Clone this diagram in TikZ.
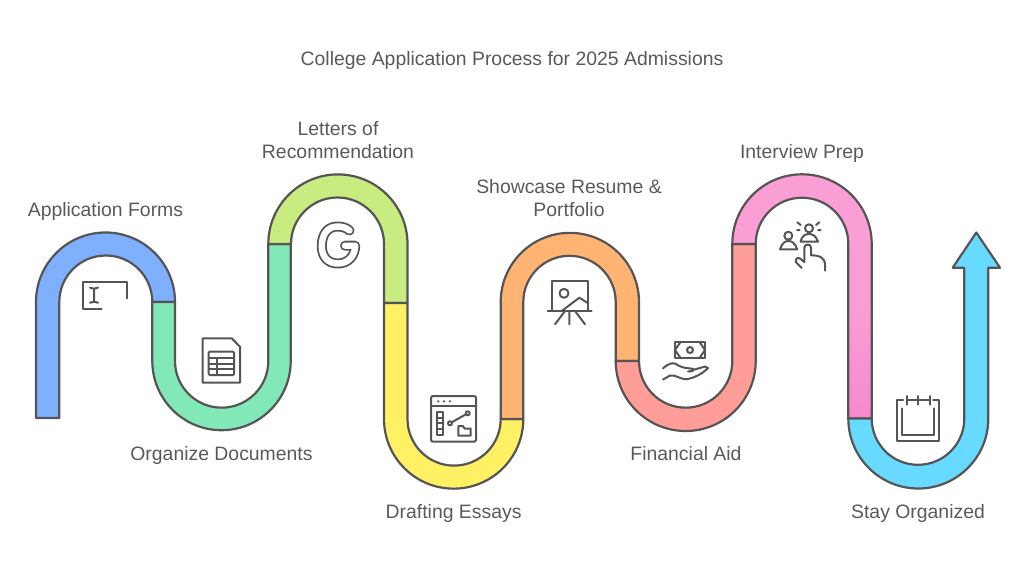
\documentclass[tikz,border=0pt]{standalone}
\usepackage{xcolor}
\usepackage{fontspec}
\setmainfont{Liberation Sans}
\usepackage{tikz}
\usetikzlibrary{arrows.meta,positioning,calc}
\definecolor{ink}{HTML}{555555}
\definecolor{txt}{HTML}{595959}
\definecolor{cblue}{HTML}{7EB0FF}
\definecolor{cgreen}{HTML}{82E8B8}
\definecolor{clime}{HTML}{C9EC80}
\definecolor{cyellow}{HTML}{FFF064}
\definecolor{corange}{HTML}{FFB474}
\definecolor{cred}{HTML}{FF9D98}
\definecolor{cpink}{HTML}{F99FD6}
\definecolor{cpinkb}{HTML}{F68ACD}
\definecolor{ccyan}{HTML}{68DAFF}

\begin{document}
\begin{tikzpicture}[x=1pt,y=-1pt]
\tikzstyle{seg}=[draw=ink,line width=2.2pt,line join=round]
\tikzstyle{lbl}=[text=txt,font=\fontsize{19.4}{23}\selectfont,align=center,inner sep=0pt,anchor=base]
\tikzstyle{ico}=[draw=ink,line width=2pt,line cap=round,line join=round]
\useasboundingbox (0,0) rectangle (1024,571);
% ribbon
\draw[seg,fill=cblue] (36,418)--(36,302) arc[start angle=180,end angle=0,radius=69.5pt]--(152.3,302) arc[start angle=0,end angle=180,radius=46.5pt]--(59.3,418)--cycle;
\draw[seg,fill=cgreen] (152.3,302)--(152.3,361) arc[start angle=180,end angle=360,radius=69.2pt]--(290.7,244)--(268.3,244)--(268.3,361) arc[start angle=360,end angle=180,radius=46.65pt]--(175,302)--cycle;
\draw[seg,fill=clime] (268.3,244) arc[start angle=180,end angle=0,radius=69.6pt]--(407.5,303)--(384,303)--(384,244) arc[start angle=0,end angle=180,radius=46.5pt]--cycle;
\draw[seg,fill=cyellow] (384,303)--(384,419) arc[start angle=180,end angle=360,radius=69.65pt]--(500.7,419) arc[start angle=360,end angle=180,radius=46.6pt]--(407.5,303)--cycle;
\draw[seg,fill=corange] (500.7,419)--(500.7,302) arc[start angle=180,end angle=0,radius=69.15pt]--(639,361)--(615.7,361)--(615.7,302) arc[start angle=0,end angle=180,radius=46.2pt]--(523.3,419)--cycle;
\draw[seg,fill=cred] (615.7,361) arc[start angle=180,end angle=360,radius=70pt]--(755.7,244)--(732.3,244)--(732.3,361) arc[start angle=360,end angle=180,radius=46.65pt]--cycle;
\draw[seg,top color=cpink,bottom color=cpinkb,middle color=cpink] (732.3,244) arc[start angle=180,end angle=0,radius=69.7pt]--(871.7,418.5)--(848.3,418.5)--(848.3,244) arc[start angle=0,end angle=180,radius=46.3pt]--cycle;
\draw[seg,fill=ccyan] (848.3,418.5) arc[start angle=180,end angle=360,radius=70pt]--(988.3,267.7)--(1000,267.7)--(976.3,232.5)--(952.7,267.7)--(964.3,267.7)--(964.3,418.5) arc[start angle=360,end angle=180,radius=46.3pt]--cycle;
% labels
\node[lbl] (title) at (512,65.5) {College Application Process for 2025 Admissions};
\node[lbl] (forms) at (105.5,216.7) {Application Forms};
\node[lbl] (docs) at (221.5,460.5) {Organize Documents};
\node[lbl,anchor=center] (letters) at (338,140) {Letters of\\Recommendation};
\node[lbl] (essays) at (453.6,518.5) {Drafting Essays};
\node[lbl,anchor=center] (resume) at (569,198) {Showcase Resume \&\\Portfolio};
\node[lbl] (aid) at (686,460.5) {Financial Aid};
\node[lbl] (prep) at (802,158.5) {Interview Prep};
\node[lbl] (stay) at (918,518.5) {Stay Organized};
% form icon
\draw[ico] (127.3,298.3)--(127.3,281.7)--(82.7,281.7)--(82.7,309)--(101.7,309);
\draw[ico] (90,287.7)--(94,288.7)--(98,287.7) (94,288.7)--(94,301.7) (90,302.7)--(94,301.7)--(98,302.7);
% document icon
\draw[ico] (231.7,338.3)--(202.7,338.3)--(202.7,382.7)--(240,382.7)--(240,346.7)--cycle;
\draw[ico,rounded corners=1pt] (208.7,351.7) rectangle (234,375);
\draw[ico] (208.7,358.3)--(234,358.3) (208.7,364.3)--(234,364.3) (208.7,369.3)--(234,369.3) (216.7,358.3)--(216.7,375);
% G icon
\draw[draw=ink,line width=10pt,line cap=round,line join=round] (349.5,230.5) .. controls (346,227.5) and (342,226.5) .. (337.5,226.5) .. controls (327,226.5) and (321.8,235) .. (321.8,246) .. controls (321.8,257) and (328,263.5) .. (338,263.5) .. controls (348,263.5) and (355,256) .. (355.2,245.7)--(345,245.7);
\draw[draw=white,line width=6.4pt,line cap=round,line join=round] (349.5,230.5) .. controls (346,227.5) and (342,226.5) .. (337.5,226.5) .. controls (327,226.5) and (321.8,235) .. (321.8,246) .. controls (321.8,257) and (328,263.5) .. (338,263.5) .. controls (348,263.5) and (355,256) .. (355.2,245.7)--(345,245.7);
% browser icon
\draw[ico,rounded corners=2pt] (431,396) rectangle (476,441.7);
\draw[ico] (431,406)--(476,406);
\foreach \x in {438.3,444,450} \fill[ink] (\x,401.3) circle[radius=1.2pt];
\draw[ico] (436.7,411.7) rectangle (443.3,435);
\foreach \y in {417.5,423.3,429.2} \draw[ico] (436.7,\y)--(443.3,\y);
\draw[ico] (450,423.3) circle[radius=2pt] (467.7,413.3) circle[radius=2pt];
\draw[ico] (451.8,422.3)--(465.9,414.3);
\draw[ico] (458.3,435.7)--(458.3,426)--(463,426)--(464.5,428.5)--(470.7,428.5)--(470.7,435.7)--cycle;
% easel icon
\draw[ico] (551.7,311)--(551.7,281)--(588.3,281)--(588.3,311);
\draw[ico] (547.7,311)--(591.7,311);
\draw[ico] (569.3,311)--(569.3,324.3) (565,311)--(555,324.3) (575,311)--(585,324.3);
\draw[ico] (564,293.3) circle[radius=4.5pt];
\draw[ico] (561.7,311)--(579.3,297.7)--(588.3,303.3);
% money icon
\draw[ico] (675,341.7) rectangle (705,358.3);
\draw[ico] (680.7,341.7)--(675,350)--(680.7,358.3) (699.3,341.7)--(705,350)--(699.3,358.3);
\draw[ico] (690,350) circle[radius=3pt];
\draw[ico] (663,368.3) .. controls (668,364) and (672,362) .. (676,364) .. controls (680,367) and (684,368) .. (691,368.5) .. controls (695,369) and (695,371.5) .. (688,371.5);
\draw[ico] (691,370.5)--(705,366.5)--(708,368) .. controls (702,374) and (696,377) .. (688,379) .. controls (680,380) and (675,374) .. (670,375.5)--(663,379.5);
% people icon
\draw[ico] (788.3,235.7) circle[radius=4pt] (809,228.3) circle[radius=4pt];
\draw[ico] (780,249.3) .. controls (782,243) and (785,241) .. (788.3,241) .. controls (792,241) and (795,243) .. (797.3,249.3)--cycle;
\draw[ico] (800.5,241.7) .. controls (802,236) and (805,234) .. (809,234) .. controls (813,234) and (816,236) .. (818,241.7)--cycle;
\draw[ico] (797.3,222.3)--(800.7,225) (819.3,222.3)--(816,225) (797,230)--(799.5,230) (820.7,230)--(818,230);
\draw[ico] (801.7,268)--(796.3,262.5) .. controls (794.5,259.5) and (797.5,256.5) .. (800,258.5)--(804.3,262)--(804.3,247.7) .. controls (804.3,243.5) and (811,243.5) .. (811,247.7)--(811,255.3) .. controls (820,255.3) and (825,258) .. (825,265)--(825,270.7);
% calendar icon
\draw[ico] (903,400)--(896.7,400)--(896.7,440.7)--(939.3,440.7)--(939.3,400)--(933,400);
\draw[ico] (902,408.3)--(902,435)--(934,435)--(934,408.3);
\draw[ico] (906.7,400)--(930,400) (906.7,396)--(906.7,404.5) (918.3,396)--(918.3,404.5) (930,396)--(930,404.5);
\end{tikzpicture}
\end{document}
